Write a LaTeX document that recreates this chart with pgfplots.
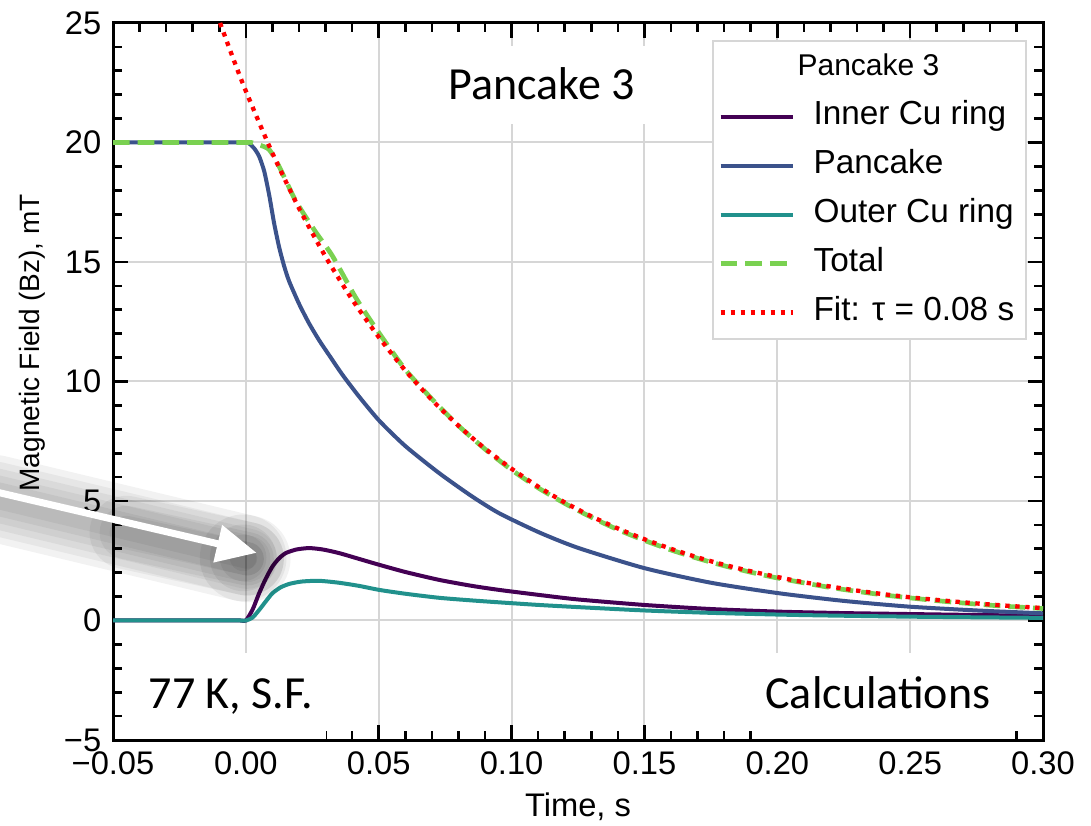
\documentclass[border=0pt]{standalone}
\usepackage{pgfplots}
\pgfplotsset{compat=1.18}
\usepackage{fontspec}
\setmainfont{Liberation Sans}
\newfontfamily\calibri{Carlito}
\usetikzlibrary{arrows.meta,calc}

\definecolor{cinner}{HTML}{440154}
\definecolor{cpan}{HTML}{3B528B}
\definecolor{couter}{HTML}{21918C}
\definecolor{ctotal}{HTML}{7AD151}
\definecolor{cgrid}{HTML}{D6D6D6}

\begin{document}
\begin{tikzpicture}
\begin{axis}[
    width=279pt, height=215.1pt, scale only axis,
    xmin=-0.05, xmax=0.30, ymin=-5, ymax=25,
    xtick={-0.05,0,0.05,0.10,0.15,0.20,0.25,0.30},
    xticklabels={−0.05,0.00,0.05,0.10,0.15,0.20,0.25,0.30},
    ytick={-5,0,5,10,15,20,25},
    yticklabels={−5,0,5,10,15,20,25},
    minor x tick num=4, minor y tick num=4,
    tick pos=both, xticklabel pos=lower, yticklabel pos=left,
    tick align=inside,
    major tick length=4.4pt, minor tick length=2.6pt,
    every tick/.style={black, line width=0.8pt},
    axis line style={line width=0.9pt},
    grid=major, major grid style={cgrid, line width=0.6pt},
    tick label style={font=\fontsize{9.8}{11}\selectfont},
    clip=false,
    legend cell align=left,
    legend style={at={(rel axis cs:0.983,0.976)}, anchor=north east,
        draw=cgrid, line width=0.6pt, inner xsep=1.6pt, inner ysep=1pt,
        font=\fontsize{10}{12}\selectfont, column sep=3.6pt, row sep=0.9pt,
        nodes={text height=7.4pt, text depth=2.4pt, inner sep=2pt}},
    legend image code/.code={\draw[#1] (0pt,0pt) -- (21.6pt,0pt);},
]
\addlegendimage{empty legend}
\addlegendentry{\hspace*{-4.8pt}\fontsize{9}{11}\selectfont Pancake 3}

% inner Cu ring
\addplot[cinner, line width=1.2pt, smooth, tension=0.4] coordinates {
(-0.05,0) (-0.03,0) (-0.01,0) (-0.002,0) (0.000,0) (0.0025,0.45) (0.005,1.14)
(0.0075,1.75) (0.010,2.26) (0.0125,2.6) (0.015,2.82) (0.019,2.97) (0.0238,3.03)
(0.029,2.97) (0.0351,2.82) (0.0425,2.58) (0.0502,2.33) (0.060,2.03) (0.0727,1.70)
(0.085,1.45) (0.0953,1.28) (0.1103,1.07) (0.125,0.88) (0.15,0.65) (0.175,0.48)
(0.2006,0.37) (0.225,0.31) (0.25,0.27) (0.275,0.23) (0.30,0.2)
};
\addlegendentry{Inner Cu ring}

% pancake
\addplot[cpan, line width=1.2pt, smooth, tension=0.4] coordinates {
(-0.05,20) (-0.03,20) (-0.01,20) (-0.002,20) (0.0,20) (0.0012,19.96) (0.0031,19.76)
(0.0050,19.42) (0.0069,18.80) (0.0088,17.79) (0.0106,16.64) (0.0125,15.63)
(0.0144,14.83) (0.0163,14.19) (0.0201,13.23) (0.0238,12.43) (0.0276,11.72)
(0.0314,11.09) (0.0363,10.29) (0.0426,9.37) (0.0502,8.36) (0.06,7.3) (0.0727,6.17)
(0.085,5.2) (0.0953,4.49) (0.1103,3.69) (0.125,3.04) (0.15,2.19) (0.175,1.58)
(0.2006,1.14) (0.225,0.82) (0.2496,0.58) (0.275,0.42) (0.30,0.3)
};
\addlegendentry{Pancake}

% outer Cu ring
\addplot[couter, line width=1.2pt, smooth, tension=0.4] coordinates {
(-0.05,0) (-0.03,0) (-0.01,0) (-0.002,0) (0.0,0) (0.0025,0.12) (0.005,0.44)
(0.0075,0.8) (0.010,1.14) (0.013,1.38) (0.0163,1.53) (0.021,1.63) (0.0276,1.66)
(0.035,1.58) (0.0425,1.45) (0.0502,1.28) (0.060,1.12) (0.0727,0.95) (0.085,0.84)
(0.0953,0.76) (0.1103,0.65) (0.125,0.56) (0.15,0.42) (0.175,0.32) (0.208,0.23)
(0.25,0.16) (0.30,0.11)
};
\addlegendentry{Outer Cu ring}

% total
\addplot[ctotal, line width=1.4pt, dash pattern=on 5pt off 2.4pt, smooth, tension=0.4] coordinates {
(-0.05,20) (-0.03,20) (-0.01,20) (0.0,20) (0.002,20) (0.005,19.9) (0.0088,19.7)
(0.0125,19.0) (0.0188,17.55) (0.0263,16.25) (0.0326,15.25) (0.0414,13.5) (0.050,12.05)
(0.060,10.5) (0.070,9.27) (0.08,8.15) (0.09,7.17) (0.10,6.3) (0.11,5.55) (0.12,4.9)
(0.13,4.32) (0.14,3.8) (0.15,3.35) (0.16,2.95) (0.17,2.6) (0.18,2.29) (0.19,2.02)
(0.20,1.78) (0.22,1.38) (0.24,1.07) (0.26,0.83) (0.28,0.64) (0.30,0.5)
};
\addlegendentry{Total}

% exponential fit, tau = 0.08 s
\addplot[red, line width=1.3pt, dash pattern=on 1.3pt off 1.7pt, smooth, tension=0.4] coordinates {
(-0.0097,25.0) (-0.005,23.58) (0.0,22.15) (0.01,19.55) (0.02,17.25) (0.03,15.22)
(0.04,13.43) (0.05,11.86) (0.06,10.46) (0.07,9.23) (0.08,8.15) (0.09,7.19)
(0.10,6.35) (0.11,5.60) (0.12,4.94) (0.13,4.36) (0.14,3.85) (0.15,3.40)
(0.16,3.00) (0.17,2.64) (0.18,2.33) (0.19,2.06) (0.20,1.82) (0.21,1.60)
(0.22,1.42) (0.23,1.25) (0.24,1.10) (0.25,0.97) (0.26,0.86) (0.27,0.76)
(0.28,0.67) (0.29,0.59) (0.30,0.52)
};
\addlegendentry{Fit: τ = 0.08 s}

% overlay texts
\node[anchor=base, fill=white, inner xsep=4pt, inner ysep=0pt, text height=15.9pt, text depth=7.5pt,
      font=\calibri\fontsize{13.8}{16}\selectfont] at (axis cs:0.1114,21.8) {Pancake 3};
\node[anchor=base west, fill=white, inner xsep=4pt, inner ysep=0pt, text height=16.5pt, text depth=9.2pt,
      font=\calibri\fontsize{13.8}{16}\selectfont] at ([xshift=-4pt]axis cs:-0.0368,-3.67) {77 K, S.F.};
\node[anchor=base west, fill=white, inner xsep=4pt, inner ysep=0pt, text height=16.5pt, text depth=9.2pt,
      font=\calibri\fontsize{13.8}{16}\selectfont] at ([xshift=-4pt]axis cs:0.1953,-3.67) {Calculations};

% axis labels
\node[rotate=90, font=\fontsize{8.4}{10}\selectfont] at ([xshift=-24.3pt]rel axis cs:0,0.554) {Magnetic Field (Bz), mT};
\node[font=\fontsize{9.8}{11}\selectfont] at ([yshift=-20.1pt]rel axis cs:0.5,0) {Time, s};

% arrow anchor points
\coordinate (A0) at (axis cs:-0.0944,5.39);
\coordinate (A1) at (axis cs:0.00406,2.83);
\coordinate (AM) at (axis cs:-0.045,4.1);
\coordinate (S1) at (axis cs:0.0005,3.0);
\coordinate (SC) at (axis cs:0.0015,2.9);
\coordinate (SW) at (rel axis cs:0,0);
\coordinate (NE) at (rel axis cs:1,1);
\end{axis}

% arrow with soft shadow
\foreach \w in {26,22,18,14,10,6} {
  \draw[line width=\w pt, black, opacity=0.05, line cap=round]
     ([yshift=-2pt]A0) -- ([yshift=-3pt]S1);
}
\foreach \w in {22,16,10} {
  \draw[line width=\w pt, black, opacity=0.05, line cap=round]
     ([yshift=-3pt]AM) -- ([yshift=-3pt]S1);
}
\foreach \r in {13,10,7,4} {
  \fill[black, opacity=0.06] ([xshift=-2pt,yshift=-2pt]SC) circle (\r pt);
}
\draw[white, line width=2.1pt, -{Triangle[length=12pt,width=11pt]}] (A0) -- (A1);

\pgfresetboundingbox
\path[use as bounding box] ($(SW)+(-33.9pt,-25.5pt)$) rectangle ($(NE)+(14.4pt,6.9pt)$);
\end{tikzpicture}
\end{document}
